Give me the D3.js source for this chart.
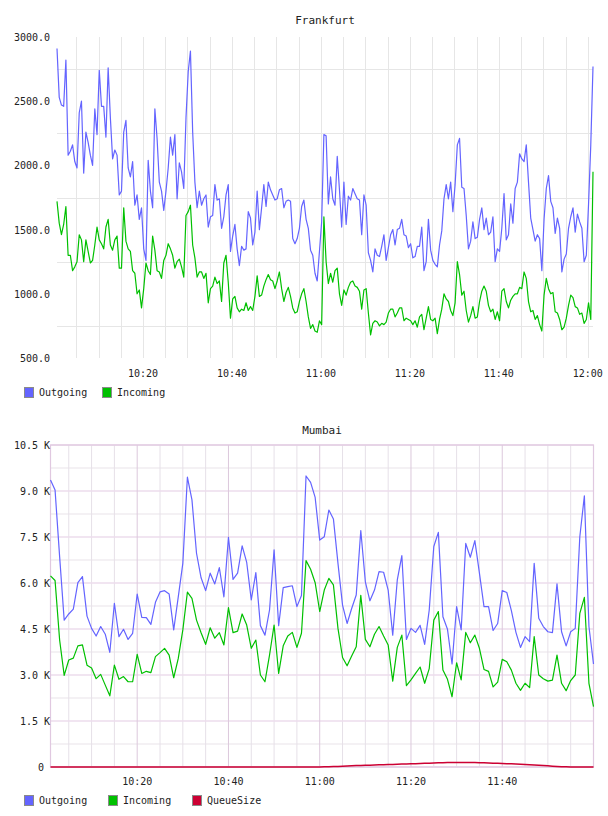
<!DOCTYPE html>
<html>
<head>
<meta charset="utf-8">
<script src="https://cdn.jsdelivr.net/npm/d3@7"></script>
<style>
  body { margin: 0; background: #fff; }
  svg text { font-family: "DejaVu Sans Mono", monospace; font-size: 10px; fill: #222; }
  svg text.title { font-size: 11px; }
</style>
</head>
<body>
<svg id="chart" width="608" height="816"></svg>
<script>
// ---- data ----
const frankfurtStart = "10:00:40";   // first sample, then every 30 s
const frankfurtStepSec = 30;
const frankfurtOutgoing = [
  2910, 2530, 2470, 2460, 2820, 2080, 2110, 2160, 2030, 1980,
  2410, 2500, 1940, 2260, 2180, 2080, 2000, 2440, 2240, 2740,
  2460, 2460, 2220, 2760, 2370, 2050, 2120, 2080, 1770, 1800,
  2260, 2350, 1980, 1910, 2030, 1690, 1770, 1580, 1670, 1350,
  1260, 2040, 1800, 1670, 2440, 2210, 1870, 1800, 1650, 1800,
  1980, 2220, 2080, 2240, 1740, 2020, 1950, 1820, 2370, 2730,
  2890, 2260, 1870, 1670, 1800, 1690, 1740, 1770, 1520, 1600,
  1610, 1850, 1730, 1740, 1510, 1600, 1770, 1850, 1330, 1450,
  1540, 1350, 1220, 1370, 1340, 1350, 1640, 1590, 1380, 1480,
  1800, 1500, 1670, 1850, 1680, 1870, 1810, 1770, 1730, 1740,
  1810, 1820, 1670, 1720, 1730, 1720, 1430, 1390, 1430, 1510,
  1680, 1730, 1580, 1510, 1340, 1300, 1160, 1100, 1330, 1560,
  2240, 2230, 1700, 1910, 1740, 1690, 2070, 1810, 1520, 1870,
  1540, 1760, 1730, 1820, 1780, 1740, 1730, 1460, 1770, 1690,
  1320, 1260, 1170, 1350, 1300, 1290, 1370, 1460, 1260, 1360,
  1460, 1500, 1380, 1500, 1510, 1580, 1460, 1450, 1360, 1390,
  1280, 1290, 1370, 1370, 1520, 1180, 1250, 1580, 1340, 1260,
  1230, 1210, 1380, 1490, 1740, 1850, 1740, 1870, 1640, 1850,
  2160, 2210, 1830, 1820, 1610, 1350, 1410, 1560, 1430, 1440,
  1580, 1670, 1500, 1590, 1460, 1480, 1600, 1250, 1350, 1330,
  1510, 1780, 1420, 1460, 1700, 1550, 1820, 1870, 2090, 2050,
  2030, 2160, 1870, 1590, 1500, 1410, 1460, 1430, 1180, 1580,
  1820, 1920, 1720, 1670, 1470, 1590, 1510, 1170, 1270, 1310,
  1510, 1600, 1670, 1480, 1620, 1560, 1510, 1250, 1300, 1700,
  2160, 2770
];
const frankfurtIncoming = [
  1720, 1550, 1460, 1540, 1680, 1300, 1300, 1180, 1210, 1250,
  1460, 1420, 1250, 1420, 1330, 1240, 1260, 1380, 1520, 1420,
  1390, 1350, 1520, 1580, 1380, 1340, 1420, 1450, 1200, 1200,
  1670, 1410, 1350, 1330, 1180, 1160, 1000, 1030, 890, 1040,
  1240, 1180, 1150, 1450, 1340, 1180, 1170, 1120, 1260, 1300,
  1390, 1350, 1300, 1200, 1250, 1270, 1210, 1130, 1610, 1640,
  1690, 1380, 1280, 1130, 1170, 1170, 1120, 1160, 930, 1040,
  1060, 1130, 1080, 1100, 940, 1240, 1300, 1090, 810, 960,
  980, 890, 860, 880, 870, 930, 870, 900, 870, 980,
  1140, 980, 990, 1060, 1110, 1150, 1110, 1100, 1040, 1100,
  1170, 1040, 940, 1010, 1050, 980, 890, 850, 860, 940,
  1000, 1040, 940, 820, 730, 760, 710, 700, 790, 760,
  1600, 1250, 1080, 1160, 1090, 1180, 1200, 1000, 910, 1030,
  990, 1050, 1090, 1100, 1060, 1050, 1020, 880, 1030, 1040,
  850, 680, 770, 790, 780, 750, 770, 760, 780, 850,
  880, 880, 820, 850, 890, 890, 790, 810, 800, 790,
  760, 790, 740, 820, 840, 720, 810, 900, 800, 790,
  810, 690, 800, 880, 1000, 960, 940, 870, 830, 930,
  1250, 1150, 990, 1020, 870, 780, 830, 900, 810, 820,
  940, 1020, 1060, 1020, 910, 860, 880, 800, 860, 790,
  1020, 1040, 940, 890, 950, 980, 1000, 1000, 1050, 1040,
  1170, 1120, 940, 860, 870, 800, 830, 760, 710, 990,
  1120, 1040, 1000, 1010, 860, 850, 800, 720, 740, 810,
  910, 990, 970, 900, 890, 840, 850, 770, 800, 930,
  800, 1950
];

const mumbaiStart = "10:01:00";      // one sample per minute
const mumbaiStepSec = 60;
const mumbaiOutgoing = [
  9360, 9030, 6860, 4790, 4990, 5150, 6010, 6210, 4920, 4520,
  4270, 4580, 4330, 3740, 5340, 4250, 4490, 4160, 4360, 5640,
  4880, 4870, 4650, 5370, 5710, 5750, 5640, 4470, 5550, 6640,
  9450, 8710, 6970, 6170, 5750, 6320, 5970, 6500, 5550, 7490,
  6120, 6320, 7210, 6670, 5450, 6340, 4610, 4300, 5120, 7080,
  4610, 5850, 5880, 5910, 5230, 5590, 9490, 9280, 8790, 7400,
  7510, 8380, 8090, 6640, 5280, 4680, 5170, 5610, 7710, 6040,
  5420, 5770, 6370, 6350, 5770, 4300, 6100, 6890, 4160, 4520,
  4390, 4620, 4000, 5120, 7190, 7650, 4900, 4490, 3360, 5230,
  4470, 7290, 6840, 7380, 6320, 5230, 5230, 4450, 4680, 5750,
  5690, 5100, 4390, 3900, 4250, 4090, 6640, 4850, 4580, 4410,
  4380, 5970, 4410, 3950, 4410, 4520, 7510, 8840, 4580, 3360
];
const mumbaiIncoming = [
  6230, 6080, 4140, 2990, 3490, 3550, 3950, 3980, 3320, 3230,
  2880, 3020, 2670, 2320, 3320, 2860, 2950, 2780, 2780, 3670,
  3050, 3120, 3080, 3600, 3730, 3870, 3650, 2910, 3540, 4470,
  5700, 5500, 4790, 4380, 4000, 4540, 4200, 4380, 3980, 5200,
  4380, 4430, 4990, 4630, 3870, 4140, 3000, 2780, 3650, 4630,
  3050, 3950, 4270, 4390, 3900, 4360, 6730, 6450, 6010, 5070,
  5770, 6150, 5940, 4520, 3570, 3300, 3620, 3920, 5600, 4160,
  3920, 4330, 4580, 4270, 3980, 2800, 3900, 4300, 2650, 2840,
  3050, 3260, 2730, 3210, 4790, 5070, 3160, 2860, 2290, 3400,
  2840, 4390, 4050, 4300, 3870, 3180, 3120, 2610, 2770, 3510,
  3430, 3160, 2730, 2500, 2730, 2590, 4250, 3000, 2880, 2800,
  2830, 3650, 2730, 2490, 2820, 3000, 5010, 5530, 2730, 1970
];
const mumbaiQueue = [
  0, 0, 0, 0, 0, 0, 0, 0, 0, 0,
  0, 0, 0, 0, 0, 0, 0, 0, 0, 0,
  0, 0, 0, 0, 0, 0, 0, 0, 0, 0,
  0, 0, 0, 0, 0, 0, 0, 0, 0, 0,
  0, 0, 0, 0, 0, 0, 0, 0, 0, 0,
  0, 0, 0, 0, 0, 0, 0, 0, 0, 0,
  5, 10, 15, 20, 28, 35, 40, 45, 50, 55,
  60, 65, 70, 75, 80, 85, 90, 95, 100, 105,
  110, 115, 120, 125, 130, 135, 140, 143, 146, 148,
  150, 150, 148, 145, 140, 135, 130, 125, 120, 115,
  110, 105, 98, 92, 84, 75, 66, 57, 47, 38,
  28, 18, 10, 5, 0, 0, 0, 0, 0, 0
];

const frankfurtYLabels = [500, 1000, 1500, 2000, 2500, 3000];
const frankfurtYGrid = [750, 1250, 1750, 2250, 2750];
const mumbaiYLabels = [0, 1500, 3000, 4500, 6000, 7500, 9000, 10500];
const mumbaiYMinor = [750, 2250, 3750, 5250, 6750, 8250, 9750];
const timeLabels = ["10:20", "10:40", "11:00", "11:20", "11:40", "12:00"];

const colors = { Outgoing: "#6464ff", Incoming: "#00c000", QueueSize: "#cc0033" };

// ---- helpers ----
const parseTime = d3.timeParse("%H:%M:%S");
const parseHM = d3.timeParse("%H:%M");
const fmtHM = d3.timeFormat("%H:%M");

function toSeries(values, start, stepSec) {
  const t0 = parseTime(start);
  return values.map((v, i) => ({ t: d3.timeSecond.offset(t0, i * stepSec), v }));
}

const svg = d3.select("#chart");

function drawLegend(y, items, xs) {
  const g = svg.append("g");
  items.forEach((name, i) => {
    g.append("rect")
      .attr("x", xs[i] + 0.5).attr("y", y + 0.5)
      .attr("width", 9).attr("height", 10)
      .attr("fill", colors[name]).attr("stroke", "#8a8a8a");
    g.append("text")
      .attr("x", xs[i] + 15).attr("y", y + 9)
      .text(name);
  });
}

function drawLine(g, x, y, data, color, width) {
  g.append("path")
    .datum(data)
    .attr("fill", "none")
    .attr("stroke", color)
    .attr("stroke-width", width)
    .attr("stroke-linejoin", "round")
    .attr("d", d3.line().x(d => x(d.t)).y(d => y(d.v)));
}

// ---- Frankfurt ----
{
  const left = 57, right = 593, top = 37, bottom = 358;
  const out = toSeries(frankfurtOutgoing, frankfurtStart, frankfurtStepSec);
  const inc = toSeries(frankfurtIncoming, frankfurtStart, frankfurtStepSec);
  const x = d3.scaleTime().domain(d3.extent(out, d => d.t)).range([left, right]);
  const y = d3.scaleLinear().domain([500, 3000]).range([bottom, top]);
  const g = svg.append("g");

  svg.append("text").attr("class", "title").attr("x", (left + right) / 2).attr("y", 24)
    .attr("text-anchor", "middle").text("Frankfurt");

  // grid
  const minor = d3.timeMinute.every(5).range(x.domain()[0], x.domain()[1]);
  g.selectAll(".vg").data(minor).join("line")
    .attr("x1", d => Math.round(x(d)) + 0.5).attr("x2", d => Math.round(x(d)) + 0.5)
    .attr("y1", top).attr("y2", bottom)
    .attr("stroke", "#e6e6e6");
  g.selectAll(".hg").data(frankfurtYGrid).join("line")
    .attr("x1", left).attr("x2", right)
    .attr("y1", d => Math.round(y(d)) + 0.5).attr("y2", d => Math.round(y(d)) + 0.5)
    .attr("stroke", "#e6e6e6");

  // y labels
  g.selectAll(".yl").data(frankfurtYLabels).join("text")
    .attr("x", 50).attr("y", d => y(d) + 4)
    .attr("text-anchor", "end")
    .text(d3.format(".1f"));

  // x labels
  g.selectAll(".xl").data(timeLabels.map(parseHM)).join("text")
    .attr("x", d => x(d)).attr("y", 377)
    .attr("text-anchor", "middle")
    .text(fmtHM);

  drawLine(g, x, y, out, colors.Outgoing, 1.2);
  drawLine(g, x, y, inc, colors.Incoming, 1.2);

  drawLegend(387, ["Outgoing", "Incoming"], [24, 102]);
}

// ---- Mumbai ----
{
  const left = 50.5, right = 593.5, top = 445, bottom = 767;
  const out = toSeries(mumbaiOutgoing, mumbaiStart, mumbaiStepSec);
  const inc = toSeries(mumbaiIncoming, mumbaiStart, mumbaiStepSec);
  const que = toSeries(mumbaiQueue, mumbaiStart, mumbaiStepSec);
  const x = d3.scaleTime().domain(d3.extent(out, d => d.t)).range([left, right]);
  const y = d3.scaleLinear().domain([0, 10500]).range([bottom, top]);
  const g = svg.append("g");

  svg.append("text").attr("class", "title").attr("x", 322).attr("y", 434)
    .attr("text-anchor", "middle").text("Mumbai");

  const domain = x.domain();
  const ticks5 = d3.timeMinute.every(5).range(domain[0], domain[1]);
  const minor = ticks5.filter(d => d.getMinutes() % 20 !== 0);
  const major = ticks5.filter(d => d.getMinutes() % 20 === 0);

  g.selectAll(".hm").data(mumbaiYMinor).join("line")
    .attr("x1", left).attr("x2", right)
    .attr("y1", d => y(d)).attr("y2", d => y(d))
    .attr("stroke", "#f0edf0").attr("stroke-width", 1.5);
  g.selectAll(".vm").data(minor).join("line")
    .attr("x1", d => x(d)).attr("x2", d => x(d))
    .attr("y1", top).attr("y2", bottom)
    .attr("stroke", "#e6e0e8").attr("stroke-width", 1);
  g.selectAll(".hM").data(mumbaiYLabels).join("line")
    .attr("x1", left).attr("x2", right)
    .attr("y1", d => y(d)).attr("y2", d => y(d))
    .attr("stroke", "#ecdcec").attr("stroke-width", 1.5);
  g.selectAll(".vM").data(major).join("line")
    .attr("x1", d => x(d)).attr("x2", d => x(d))
    .attr("y1", top).attr("y2", bottom)
    .attr("stroke", "#dcc8dc").attr("stroke-width", 1);
  // frame
  g.append("rect").attr("x", left).attr("y", top)
    .attr("width", right - left).attr("height", bottom - top)
    .attr("fill", "none").attr("stroke", "#e0c8e0").attr("stroke-width", 1.2);

  g.selectAll(".yl").data(mumbaiYLabels).join("text")
    .attr("x", 50).attr("y", d => y(d) + 4)
    .attr("text-anchor", "end")
    .style("white-space", "pre")
    .text(d => d === 0 ? "0 " : (d / 1000).toFixed(1) + " K");

  g.selectAll(".xl").data(timeLabels.slice(0, 5).map(parseHM)).join("text")
    .attr("x", d => x(d)).attr("y", 785)
    .attr("text-anchor", "middle")
    .text(fmtHM);

  drawLine(g, x, y, out, colors.Outgoing, 1.2);
  drawLine(g, x, y, inc, colors.Incoming, 1.2);
  drawLine(g, x, y, que, colors.QueueSize, 1.5);

  drawLegend(795, ["Outgoing", "Incoming", "QueueSize"], [24, 108, 192]);
}
</script>
</body>
</html>
